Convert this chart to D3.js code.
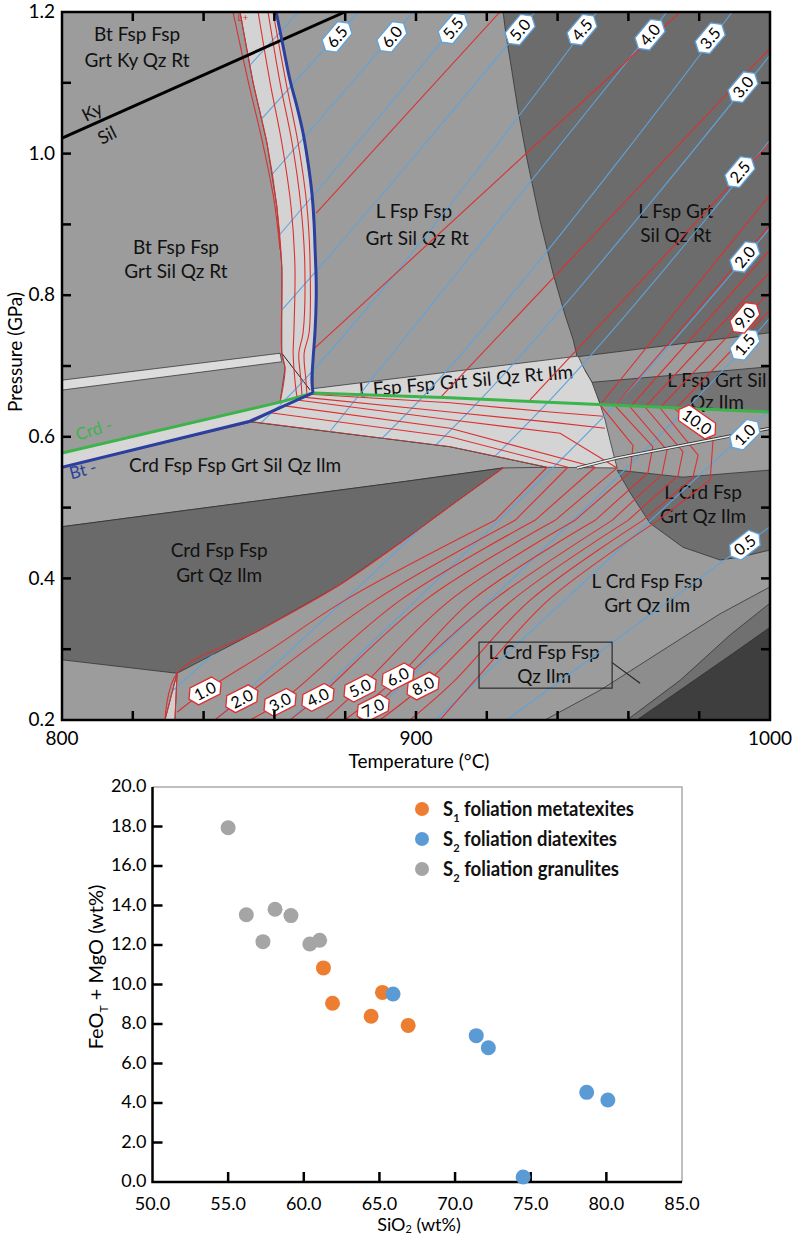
<!DOCTYPE html>
<html><head><meta charset="utf-8">
<script src="https://cdn.jsdelivr.net/npm/d3@7"></script>
<style>
body{margin:0;background:#fff;}
svg{font-family:Lato,'Open Sans',sans-serif;}
</style></head>
<body><svg id="c" width="798" height="1236"></svg>
<script>
// ---------------- DATA: phase diagram (T in °C, P in GPa) ----------------
const tempTicks=[800,900,1000];
const presTicks=[0.2,0.4,0.6,0.8,1.0,1.2];

const meltRegion=[[850.3,1.2],[1000,1.2],[1000,0.2],[829.1,0.2],[832.5,0.266],[855.9,0.327],[878.5,0.391],[895.5,0.450],[924.6,0.556],[937.0,0.557],[909.6,0.586],[853.7,0.621],[861.6,0.645],[863.0,0.697],[862.1,0.718],[862.1,0.840],[860.7,0.925],[857.9,1.015],[854.0,1.100]];

const fieldDarkNE=[[924.6,1.2],[925.4,1.168],[926.6,1.132],[928.8,1.062],[931.4,0.991],[935.0,0.906],[938.7,0.831],[942.1,0.772],[944.4,0.737],[945.5,0.713],[1000,0.747],[1000,1.2]];
const fieldDarkE2=[[947.7,0.694],[949.7,0.677],[1000,0.699],[1000,0.635],[952.0,0.646]];
const fieldDarkE3=[[956.8,0.553],[975.4,0.543],[1000,0.553],[1000,0.440],[991.5,0.430],[985.9,0.426],[975.4,0.444],[966.1,0.478],[960.5,0.521]];
const fieldMeltIn=[[850.3,1.2],[854.0,1.1],[857.9,1.015],[860.7,0.925],[862.1,0.840],[862.1,0.718],[863.0,0.697],[861.6,0.649],[870.9,0.662],[870.9,0.708],[871.5,0.751],[871.8,0.793],[871.5,0.864],[870.6,0.944],[868.1,1.029],[864.4,1.104],[860.5,1.2]];
const fieldThinL=[[800,0.680],[861.6,0.718],[862.1,0.706],[800,0.666]];
const fieldStrip=[[800,0.577],[861.6,0.649],[870.9,0.662],[853.1,0.622],[800,0.557]];
const fieldIlmBand=[[870.9,0.662],[870.9,0.668],[945.8,0.714],[947.7,0.694],[949.7,0.677],[952.0,0.646],[909.6,0.655]];
const fieldWedge=[[870.9,0.662],[909.6,0.655],[952.0,0.646],[953.4,0.624],[954.8,0.595],[956.8,0.556],[937.0,0.557],[909.6,0.586],[853.7,0.621]];
const fieldCrdSil=[[800,0.557],[853.7,0.621],[909.6,0.586],[937.0,0.557],[924.6,0.556],[895.5,0.536],[800,0.473]];
const fieldDarkW=[[800,0.473],[895.5,0.536],[924.6,0.556],[911.0,0.507],[895.5,0.450],[878.5,0.391],[855.9,0.327],[832.5,0.266],[800,0.285]];
const fieldSliver=[[832.5,0.266],[831.9,0.2],[829.1,0.2]];
const fieldBandA=[[936.4,0.2],[952.0,0.242],[968.9,0.296],[985.9,0.350],[1000,0.388],[1000,0.2]];
const fieldBandB=[[959.6,0.2],[974.6,0.256],[988.7,0.320],[1000,0.365],[1000,0.2]];
const fieldBandC=[[962.4,0.2],[977.4,0.252],[990.1,0.296],[1000,0.331],[1000,0.2]];

const crdOut=[[800,0.577],[861.6,0.649],[870.9,0.662],[909.6,0.655],[1000,0.635]];
const btOutUpper=[[860.5,1.2],[862.4,1.153],[864.4,1.104],[866.4,1.066],[868.1,1.029],[869.5,0.987],[870.6,0.944],[871.2,0.903],[871.5,0.864],[871.8,0.821],[871.8,0.793],[871.5,0.751],[870.9,0.708],[870.6,0.680],[870.9,0.662]];
const btOutLower=[[870.9,0.662],[853.1,0.622],[800,0.557]];
const kySil=[[800,1.022],[879.9,1.2]];
const thinBoundary=[[862.1,0.718],[870.1,0.666]];
const doubleLine=[[945.5,0.556],[956.8,0.570],[1000,0.612]];
const boxCorners=[[917.8,0.310],[955.4,0.245]];
const boxLeader=[[955.4,0.281],[963.3,0.252]];

// blue isopleths (values 7.0 ... 0.5)
const blueValues=[7.0,6.5,6.0,5.5,5.0,4.5,4.0,3.5,3.0,2.5,2.0,1.5,1.0,0.5];
const blueLines=[
 [[866.8,1.2],[800,0.834]],
 [[883.6,1.2],[800,0.736]],
 [[899.2,1.2],[800,0.629]],
 [[914.1,1.2],[818.9,0.652],[800,0.588]],
 [[933.6,1.2],[838.4,0.652],[800,0.494]],
 [[951.1,1.2],[863.0,0.652],[800,0.398]],
 [[970.9,1.2],[882.8,0.652],[810.7,0.2]],
 [[989.3,1.2],[901.1,0.652],[800.8,0.2]],
 [[1000,1.139],[918.1,0.652],[822.0,0.2]],
 [[1000,1.019],[937.9,0.652],[843.2,0.2]],
 [[1000,0.895],[957.6,0.652],[864.4,0.2]],
 [[1000,0.768],[978.8,0.652],[885.6,0.2]],
 [[1000,0.638],[905.4,0.2]],
 [[1000,0.473],[925.7,0.2]]
];
const blueLabelPos=[null,[877.7,1.165],[893.2,1.165],[910.5,1.177],[929.4,1.175],[946.9,1.175],[966.1,1.168],[983.1,1.163],[992.4,1.094],[991.5,0.974],[992.9,0.854],[992.9,0.730],[992.9,0.603],[992.9,0.447]];

// red isopleths
const solidusBand=[[850.3,1.2],[854.0,1.1],[857.9,1.015],[860.7,0.925],[862.1,0.840],[862.1,0.718],[863.0,0.697],[861.6,0.649]];
const solidusOuter=[[848.3,1.2],[852.5,1.104],[856.5,1.019],[859.9,0.934],[861.6,0.864]];
const solidusLow=[[829.1,0.2],[832.5,0.266],[855.9,0.327],[878.5,0.391],[895.5,0.450],[911.0,0.507],[924.6,0.556]];
const redBand=[
 [[855.4,1.2],[858.8,1.1],[862.1,1.015],[864.7,0.925],[865.8,0.840],[865.5,0.747],[865.3,0.718],[865.8,0.680],[866.4,0.655]],
 [[858.2,1.2],[861.6,1.1],[865.0,1.015],[867.5,0.925],[868.6,0.840],[868.1,0.747],[866.9,0.718],[867.5,0.680],[867.8,0.658]],
 [[859.6,1.2],[863.3,1.1],[866.7,1.015],[869.2,0.925],[870.1,0.840],[869.8,0.747],[868.4,0.718],[868.9,0.680],[869.2,0.659]]
];
const redWedge=[
 [[853.7,0.621],[909.6,0.586],[937.0,0.557]],
 [[858.8,0.634],[909.6,0.600],[942.9,0.557]],
 [[862.4,0.644],[909.6,0.612],[950.6,0.557]],
 [[866.4,0.652],[909.6,0.624],[940.7,0.605],[956.8,0.556]],
 [[868.1,0.656],[909.6,0.635],[939.3,0.620],[953.4,0.612]],
 [[870.1,0.660],[909.6,0.648],[937.9,0.635],[952.8,0.629]]
];
const redUpper=[
 [[871.8,0.916],[923.7,1.2]],
 [[870.9,0.723],[974.6,1.2]],
 [[906.8,0.655],[1000,1.149]],
 [[932.2,0.652],[1000,1.015]]
];
const redLower=[
 [[937.0,0.557],[922.3,0.482],[879.9,0.369],[858.8,0.299],[840.4,0.241],[832.5,0.211]],
 [[942.9,0.557],[928.0,0.482],[888.4,0.369],[850.8,0.230],[843.2,0.2]],
 [[950.6,0.557],[933.6,0.482],[895.5,0.369],[861.6,0.225],[853.1,0.2]],
 [[956.8,0.556],[939.3,0.482],[902.5,0.369],[872.3,0.232],[864.4,0.2]],
 [[1000,0.942],[952.0,0.645],[961.3,0.588],[960.5,0.550],[944.9,0.482],[909.6,0.369],[884.2,0.245],[874.3,0.2]],
 [[1000,0.899],[956.2,0.644],[966.9,0.586],[965.5,0.549],[950.6,0.482],[915.8,0.369],[894.9,0.261],[879.9,0.2]],
 [[1000,0.864],[960.5,0.642],[970.9,0.581],[969.5,0.547],[955.4,0.482],[921.8,0.369],[904.0,0.292],[887.9,0.217],[883.6,0.2]],
 [[1000,0.833],[964.7,0.642],[975.4,0.579],[974.0,0.545],[959.9,0.482],[927.1,0.369],[902.0,0.248],[889.8,0.2]],
 [[1000,0.805],[968.9,0.641],[979.7,0.574],[978.2,0.542],[964.1,0.482],[932.2,0.369],[911.0,0.256],[898.3,0.2]],
 [[1000,0.779],[973.2,0.639],[983.9,0.595],[983.1,0.539],[968.4,0.482],[937.3,0.369],[918.1,0.264],[906.8,0.2]]
];
const redLabelText=['1.0','2.0','3.0','4.0','5.0','6.0','7.0','8.0','9.0','10.0'];
const redLabelPos=[[840.4,0.241],[850.8,0.230],[861.6,0.225],[872.3,0.232],[884.2,0.245],[894.9,0.261],[887.9,0.217],[902.0,0.248],[992.9,0.768],[979.4,0.621]];

// field labels: [T, P, text]
const fieldLabels=[
 [821.2,1.168,'Bt Fsp Fsp'],[821.2,1.132,'Grt Ky Qz Rt'],
 [832.2,0.867,'Bt Fsp Fsp'],[832.2,0.833,'Grt Sil Qz Rt'],
 [899.4,0.918,'L Fsp Fsp'],[900.3,0.881,'Grt Sil Qz Rt'],
 [973.4,0.918,'L Fsp Grt'],[973.4,0.885,'Sil Qz Rt'],
 [985.0,0.680,'L Fsp Grt Sil'],[985.0,0.649,'Qz Ilm'],
 [848.9,0.559,'Crd Fsp Fsp Grt Sil Qz Ilm'],
 [844.4,0.439,'Crd Fsp Fsp'],[844.4,0.405,'Grt Qz Ilm'],
 [981.1,0.521,'L Crd Fsp'],[981.1,0.487,'Grt Qz Ilm'],
 [965.3,0.396,'L Crd Fsp Fsp'],[965.3,0.362,'Grt Qz Ilm'],
 [936.2,0.295,'L Crd Fsp Fsp'],[936.2,0.261,'Qz Ilm']
];
const ilmBandLabel=[914.1,0.679,'L Fsp Fsp Grt Sil Qz Rt Ilm'];
const kyLabel=[808.5,1.059,'Ky'], silLabel=[812.7,1.026,'Sil'];
const crdLabel=[809.0,0.610,'Crd -'], btLabel=[805.9,0.553,'Bt -'];
const lPlusLabel=[851.1,1.192,'L+'];

// ---------------- DATA: scatter ----------------
const metaSiO2=[61.3,61.9,64.45,65.2,66.9];
const metaFeMg=[10.84,9.05,8.39,9.60,7.93];
const diaSiO2=[65.9,71.4,72.2,74.5,78.7,80.1];
const diaFeMg=[9.52,7.41,6.80,0.25,4.54,4.15];
const granSiO2=[55.0,56.2,57.3,58.1,59.15,60.4,61.05];
const granFeMg=[17.94,13.53,12.17,13.81,13.49,12.05,12.24];
const sio2Ticks=[50,55,60,65,70,75,80,85];
const femgTicks=[0,2,4,6,8,10,12,14,16,18,20];

// ---------------- DRAW top ----------------
const svg=d3.select('#c');
const x=d3.scaleLinear().domain([800,1000]).range([62,770]);
const y=d3.scaleLinear().domain([0.2,1.2]).range([720,12]);
const ln=d3.line().x(d=>x(d[0])).y(d=>y(d[1]));
const smooth=d3.line().x(d=>x(d[0])).y(d=>y(d[1])).curve(d3.curveCatmullRom.alpha(0.5));
const defs=svg.append('defs');
defs.append('clipPath').attr('id','plot').append('rect').attr('x',62).attr('y',12).attr('width',708).attr('height',708);
defs.append('clipPath').attr('id','melt').append('path').attr('d',ln(meltRegion)+'Z');

const gTop=svg.append('g').attr('clip-path','url(#plot)');
gTop.append('rect').attr('x',62).attr('y',12).attr('width',708).attr('height',708).attr('fill','#9c9c9c');
const fields=[
 [fieldDarkNE,'#6c6c6c'],[fieldDarkE2,'#747474'],[fieldDarkE3,'#6f6f6f'],
 [fieldCrdSil,'#a4a4a4'],[fieldDarkW,'#6a6a6a'],
 [fieldBandA,'#8d8d8d'],[fieldBandB,'#707070'],[fieldBandC,'#3e3e3e'],
 [fieldMeltIn,'#d3d3d3'],[fieldThinL,'#dcdcdc'],[fieldStrip,'#d6d6d6'],
 [fieldIlmBand,'#d6d6d6'],[fieldWedge,'#d4d4d4'],[fieldSliver,'#d0d0d0']
];
fields.forEach(([pts,c])=>gTop.append('path').attr('d',ln(pts)+'Z').attr('fill',c).attr('stroke','#2a2a2a').attr('stroke-width',0.7));
gTop.append('path').attr('d',ln(thinBoundary)).attr('stroke','#222').attr('stroke-width',1).attr('fill','none');

// field labels (beneath the isopleths, as in the original)
const lab=gTop.append('g').attr('font-size',19).attr('fill','#111').attr('text-anchor','middle');
fieldLabels.forEach(d=>lab.append('text').attr('x',x(d[0])).attr('y',y(d[1])).attr('dy','0.35em').text(d[2]));
function rotLabel(d,ang,color,size){
 lab.append('text').attr('transform',`translate(${x(d[0])},${y(d[1])}) rotate(${ang})`).attr('dy','0.35em')
  .attr('fill',color).attr('font-size',size).text(d[2]);
}
rotLabel(ilmBandLabel,-5,'#111',19);
rotLabel(kyLabel,-27,'#111',18);
rotLabel(silLabel,-27,'#111',18);
rotLabel(crdLabel,-17,'#3cb44b',17);
rotLabel(btLabel,-15,'#2d3f9e',17);
rotLabel(lPlusLabel,0,'#dc3030',10);

// isopleths
const iso=gTop.append('g').attr('clip-path','url(#melt)').attr('fill','none');
blueLines.forEach(l=>iso.append('path').attr('d',smooth(l)).attr('stroke','#5ea3dc').attr('stroke-width',1.1));
const redC='#dc3030';
redBand.forEach(l=>iso.append('path').attr('d',smooth(l)).attr('stroke',redC).attr('stroke-width',1.1));
redWedge.forEach(l=>iso.append('path').attr('d',ln(l)).attr('stroke',redC).attr('stroke-width',1.1));
redUpper.forEach(l=>iso.append('path').attr('d',ln(l)).attr('stroke',redC).attr('stroke-width',1.1));
redLower.forEach(l=>{
 const k=l.findIndex(p=>p[1]<=0.4821);
 iso.append('path').attr('d',ln(l.slice(0,k+1))).attr('stroke',redC).attr('stroke-width',1.1);
 iso.append('path').attr('d',smooth(l.slice(k))).attr('stroke',redC).attr('stroke-width',1.1);
});
gTop.append('path').attr('d',smooth(solidusBand)).attr('stroke',redC).attr('stroke-width',1.1).attr('fill','none');
gTop.append('path').attr('d',smooth(solidusOuter)).attr('stroke',redC).attr('stroke-width',1.1).attr('fill','none');
gTop.append('path').attr('d',smooth(solidusLow)).attr('stroke',redC).attr('stroke-width',1.1).attr('fill','none');
gTop.append('path').attr('d',ln(fieldSliver)+'Z').attr('stroke',redC).attr('stroke-width',1).attr('fill','none');

// double line
gTop.append('path').attr('d',ln(doubleLine)).attr('stroke','#333').attr('stroke-width',3.2).attr('fill','none');
gTop.append('path').attr('d',ln(doubleLine)).attr('stroke','#eee').attr('stroke-width',1.4).attr('fill','none');

// main reaction lines
gTop.append('path').attr('d',ln(kySil)).attr('stroke','#000').attr('stroke-width',3).attr('fill','none');
gTop.append('path').attr('d',ln(crdOut)).attr('stroke','#3cb44b').attr('stroke-width',3).attr('fill','none');
gTop.append('path').attr('d',smooth(btOutUpper)).attr('stroke','#2d3f9e').attr('stroke-width',3).attr('fill','none');
gTop.append('path').attr('d',ln(btOutLower)).attr('stroke','#2d3f9e').attr('stroke-width',3).attr('fill','none');

// box label
gTop.append('rect').attr('x',x(boxCorners[0][0])).attr('y',y(boxCorners[0][1]))
 .attr('width',x(boxCorners[1][0])-x(boxCorners[0][0])).attr('height',y(boxCorners[1][1])-y(boxCorners[0][1]))
 .attr('fill','none').attr('stroke','#222').attr('stroke-width',1.1);
gTop.append('path').attr('d',ln(boxLeader)).attr('stroke','#222').attr('stroke-width',1.1);

// hex labels
function hexLabel(pos,text,ang,color){
 const g=gTop.append('g').attr('transform',`translate(${x(pos[0])},${y(pos[1])}) rotate(${ang})`);
 const w=text.length>3?44:36,h=19;
 g.append('polygon').attr('points',[[-w/2,0],[-w/2+6,-h/2],[w/2-6,-h/2],[w/2,0],[w/2-6,h/2],[-w/2+6,h/2]].map(p=>p.join(',')).join(' '))
  .attr('fill','#fff').attr('stroke',color).attr('stroke-width',1.3);
 g.append('text').attr('text-anchor','middle').attr('dy','0.36em').attr('font-size',16).attr('fill','#000').text(text);
}
blueValues.forEach((v,i)=>{ if(blueLabelPos[i]){ const a=i<12?-50:(i===12?-45:-38); hexLabel(blueLabelPos[i],v.toFixed(1),a,'#5ea3dc'); }});
redLabelText.forEach((t,i)=>{ const a=i<8?-27:(i===8?-50:35); hexLabel(redLabelPos[i],t,a,redC); });

// axes top
const ax=svg.append('g');
ax.append('rect').attr('x',62).attr('y',12).attr('width',708).attr('height',708).attr('fill','none').attr('stroke','#000').attr('stroke-width',2.5);
const tminor=d3.range(820,1000,20), pminor=d3.range(3,12).map(v=>v/10);
tminor.forEach(t=>{
 ax.append('line').attr('x1',x(t)).attr('x2',x(t)).attr('y1',720).attr('y2',711).attr('stroke','#000').attr('stroke-width',2.5);
 ax.append('line').attr('x1',x(t)).attr('x2',x(t)).attr('y1',12).attr('y2',21).attr('stroke','#000').attr('stroke-width',2.5);
});
pminor.forEach(p=>{
 ax.append('line').attr('x1',62).attr('x2',71).attr('y1',y(p)).attr('y2',y(p)).attr('stroke','#000').attr('stroke-width',2.5);
 ax.append('line').attr('x1',770).attr('x2',761).attr('y1',y(p)).attr('y2',y(p)).attr('stroke','#000').attr('stroke-width',2.5);
});
tempTicks.forEach(t=>ax.append('text').attr('x',x(t)).attr('y',745).attr('text-anchor','middle').attr('font-size',19).text(t));
presTicks.forEach(p=>ax.append('text').attr('x',55).attr('y',y(p)).attr('dy','0.33em').attr('text-anchor','end').attr('font-size',19).text(p.toFixed(1)));
ax.append('text').attr('x',419).attr('y',768).attr('text-anchor','middle').attr('font-size',19).text('Temperature (°C)');
ax.append('text').attr('transform','translate(15,352) rotate(-90)').attr('text-anchor','middle').attr('dy','0.35em').attr('font-size',19).text('Pressure (GPa)');

// ---------------- DRAW scatter ----------------
const xs=d3.scaleLinear().domain([50,85]).range([152.5,682]);
const ys=d3.scaleLinear().domain([0,20]).range([1182,787]);
const sc=svg.append('g');
sc.append('path').attr('d',`M${xs(50)},${ys(20)}H${xs(85)}V${ys(0)}`).attr('fill','none').attr('stroke','#aaa').attr('stroke-width',1.5);
sc.append('path').attr('d',`M${xs(50)},${ys(20)}V${ys(0)}H${xs(85)}`).attr('fill','none').attr('stroke','#000').attr('stroke-width',2.5);
sio2Ticks.forEach(v=>{
 if(v>50&&v<85) sc.append('line').attr('x1',xs(v)).attr('x2',xs(v)).attr('y1',ys(0)).attr('y2',ys(0)-10).attr('stroke','#000').attr('stroke-width',2.5);
 sc.append('text').attr('x',xs(v)).attr('y',1209.5).attr('text-anchor','middle').attr('font-size',18).text(v.toFixed(1));
});
femgTicks.forEach(v=>{
 if(v>0&&v<20) sc.append('line').attr('x1',xs(50)).attr('x2',xs(50)+10).attr('y1',ys(v)).attr('y2',ys(v)).attr('stroke','#000').attr('stroke-width',2.5);
 sc.append('text').attr('x',xs(50)-6).attr('y',ys(v)).attr('dy','0.3em').attr('text-anchor','end').attr('font-size',18).text(v.toFixed(1));
});
const xt=sc.append('text').attr('x',419).attr('y',1231).attr('text-anchor','middle').attr('font-size',18);
xt.append('tspan').text('SiO');
xt.append('tspan').attr('font-size',11).attr('dy',2).text('2');
xt.append('tspan').attr('dy',-2).text(' (wt%)');
const yt=sc.append('text').attr('transform','translate(103,967) rotate(-90)').attr('text-anchor','middle').attr('font-size',20);
yt.append('tspan').text('FeO');
yt.append('tspan').attr('font-size',12).attr('dy',5).text('T');
yt.append('tspan').attr('dy',-5).text(' + MgO (wt%)');

const series=[
 ['S','1',' foliation metatexites','#ed7d31',metaSiO2,metaFeMg,191],
 ['S','2',' foliation diatexites','#5b9bd5',diaSiO2,diaFeMg,174],
 ['S','2',' foliation granulites','#a5a5a5',granSiO2,granFeMg,176]
];
[2,0,1].forEach(i=>{
 const s=series[i];
 s[4].forEach((v,j)=>sc.append('circle').attr('cx',xs(v)).attr('cy',ys(s[5][j])).attr('r',7.5).attr('fill',s[3]));
});
series.forEach((s,i)=>{
 const cy=809+i*30;
 sc.append('circle').attr('cx',422).attr('cy',cy).attr('r',7).attr('fill',s[3]);
 const t=sc.append('text').attr('x',443).attr('y',cy+7).attr('font-size',20).attr('font-weight','bold').attr('fill','#111')
  .attr('textLength',s[6]).attr('lengthAdjust','spacingAndGlyphs');
 t.append('tspan').text(s[0]);
 t.append('tspan').attr('font-size',12).attr('dy',6).text(s[1]);
 t.append('tspan').attr('dy',-6).text(s[2]);
});
</script>
</body></html>
